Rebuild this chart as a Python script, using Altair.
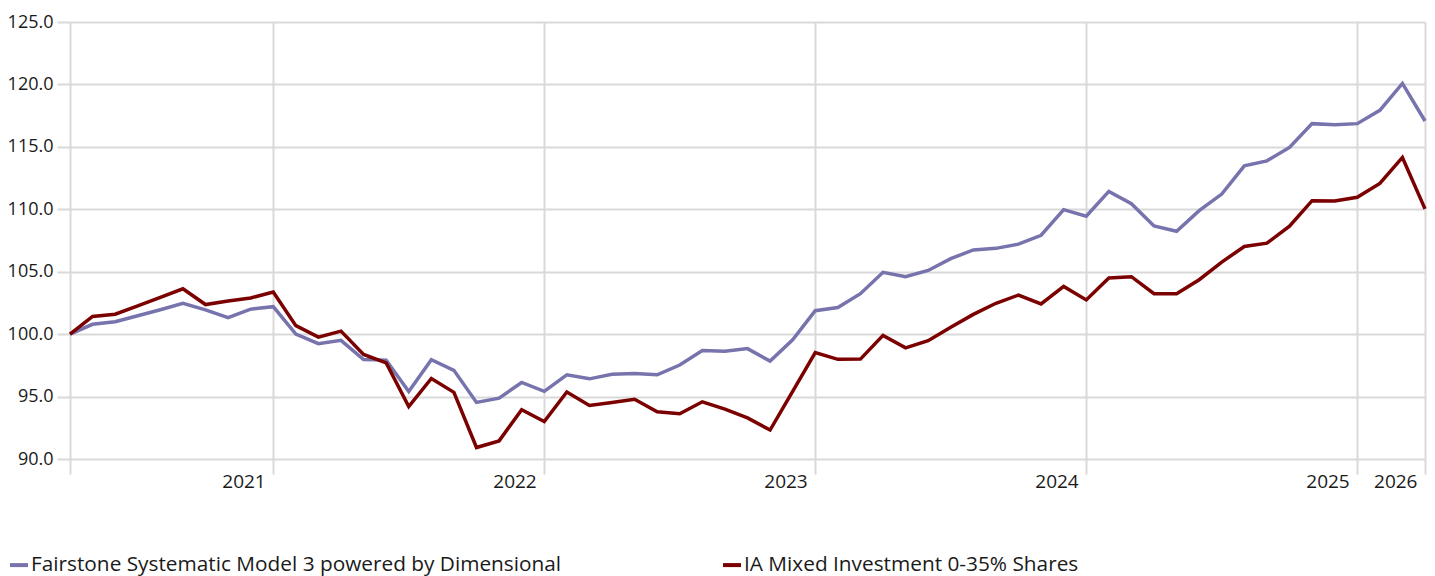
import altair as alt
import pandas as pd

series_names = ["Fairstone Systematic Model 3 powered by Dimensional",
                "IA Mixed Investment 0-35% Shares"]
series_colors = ["#7673ad", "#7b0000"]

fairstone = [100.0, 100.79, 101.0, 101.47, 101.95, 102.47, 101.95, 101.32, 102.0, 102.2,
             100.0, 99.24, 99.5, 97.97, 97.92, 95.4, 97.95, 97.1, 94.53, 94.87,
             96.13, 95.42, 96.74, 96.42, 96.79, 96.84, 96.74, 97.53, 98.68, 98.63,
             98.84, 97.84, 99.55, 101.88, 102.13, 103.24, 104.95, 104.6, 105.1, 106.05,
             106.74, 106.87, 107.21, 107.92, 109.97, 109.45, 111.43, 110.45, 108.67, 108.24,
             109.89, 111.22, 113.48, 113.88, 114.95, 116.86, 116.78, 116.86, 117.93, 120.08, 117.07]

ia_mixed = [100.0, 101.42, 101.6, 102.26, 102.95, 103.63, 102.37, 102.66, 102.9, 103.37,
            100.68, 99.76, 100.24, 98.37, 97.7, 94.2, 96.45, 95.34, 90.92, 91.45,
            93.95, 93.0, 95.37, 94.29, 94.53, 94.79, 93.79, 93.63, 94.58, 94.0,
            93.29, 92.32, 95.42, 98.53, 97.98, 98.0, 99.9, 98.9, 99.47, 100.55,
            101.58, 102.47, 103.13, 102.42, 103.82, 102.74, 104.5, 104.6, 103.24, 103.24,
            104.36, 105.77, 107.02, 107.29, 108.64, 110.69, 110.66, 110.96, 112.07, 114.15, 110.03]

tick_positions = [0, 9, 21, 33, 45, 57, 60]
tick_labels = ["", "2021", "2022", "2023", "2024", "2025", "2026"]
y_ticks = [90, 95, 100, 105, 110, 115, 120, 125]

rows = []
for name, vals in zip(series_names, [fairstone, ia_mixed]):
    for i, v in enumerate(vals):
        rows.append({"month": i, "value": v, "series": name})
df = pd.DataFrame(rows)

label_map = "{" + ",".join(f"'{p}':'{l}'" for p, l in zip(tick_positions, tick_labels)) + "}"

FONT = "Open Sans"
GRID = "#d9d9d9"

chart = alt.Chart(df).mark_line(strokeWidth=3.5).encode(
    x=alt.X("month:Q", scale=alt.Scale(domain=[0, 60], nice=False, zero=False),
            axis=alt.Axis(values=tick_positions, labelExpr=label_map + "[datum.value]",
                          title=None, domain=False, grid=True, gridColor=GRID, gridWidth=2,
                          tickColor=GRID, tickWidth=2, tickSize=15, labelAlign="right",
                          labelOffset=-8, labelPadding=-2, labelFontSize=19, labelFont=FONT,
                          labelColor="#1a1a1a", labelFlush=False, labelOverlap=False)),
    y=alt.Y("value:Q", scale=alt.Scale(domain=[90, 125], nice=False, zero=False),
            axis=alt.Axis(values=y_ticks, format=".1f", title=None, domain=False,
                          gridColor=GRID, gridWidth=2, tickColor=GRID, tickWidth=2,
                          tickSize=13, labelPadding=4, labelFontSize=18, labelFont=FONT,
                          labelColor="#1a1a1a")),
    color=alt.Color("series:N", scale=alt.Scale(domain=series_names, range=series_colors),
                    legend=alt.Legend(title=None, orient="none", direction="horizontal",
                                      legendX=-62, legendY=532, symbolType="stroke",
                                      symbolStrokeWidth=4, symbolSize=324, labelLimit=900,
                                      labelFontSize=20.8, labelFont=FONT, labelColor="#1a1a1a",
                                      columnPadding=153, labelOffset=1)),
).properties(
    width=1355, height=437,
    autosize=alt.AutoSizeParams(type="none"),
    padding={"left": 62, "top": 14, "right": 2, "bottom": 140},
).configure_view(stroke=None)

chart.save("out.html", embed_options={"renderer": "svg", "actions": False})
